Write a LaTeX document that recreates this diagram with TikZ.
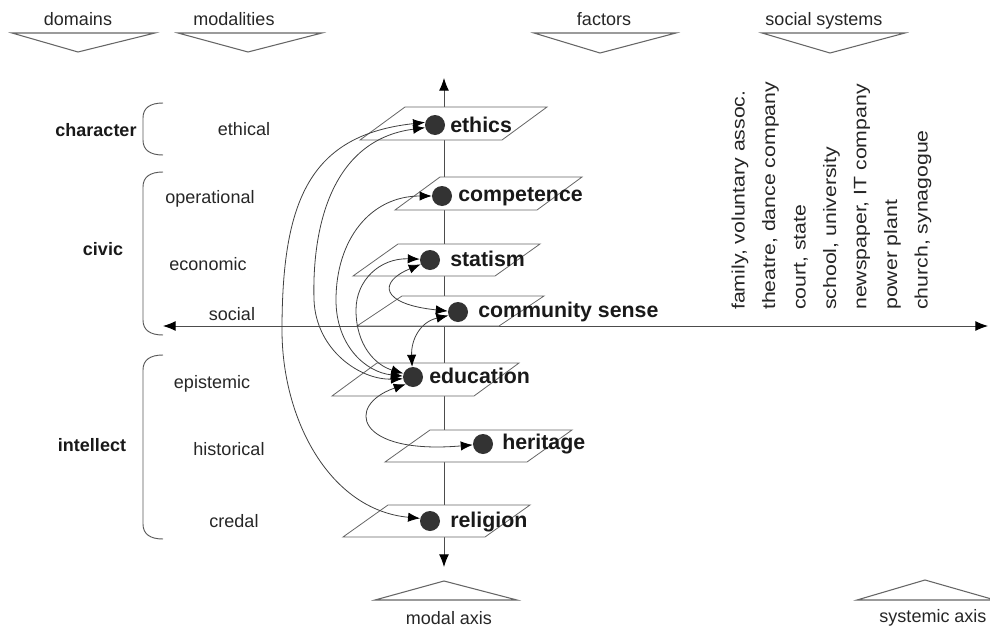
\documentclass[tikz,border=0pt]{standalone}
\usepackage{fontspec}
\usepackage{graphicx}
\setmainfont{Liberation Sans}
\usetikzlibrary{arrows.meta}
\begin{document}
\begin{tikzpicture}[x=0.75pt,y=-0.75pt,
  plane/.style={draw=black!60, line width=0.6pt, fill=white},
  axis/.style={draw=black!70, line width=0.7pt, {Latex[length=9.5pt,width=7.5pt,black]}-{Latex[length=9.5pt,width=7.5pt,black]}},
  chev/.style={draw=black!60, line width=0.8pt},
  dotn/.style={circle, fill=black!80, minimum size=15pt, inner sep=0pt},
  fac/.style={font=\fontsize{16}{18}\selectfont\bfseries, inner sep=0pt, anchor=base west, text=black!90},
  mlab/.style={font=\fontsize{13.5}{15}\selectfont, inner sep=0pt, anchor=base, text=black!85},
  dlab/.style={font=\fontsize{13.5}{15}\selectfont\bfseries, inner sep=0pt, anchor=base, text=black!90},
  link/.style={draw=black!75, line width=0.6pt, {Latex[length=9pt,width=7pt,black]}-{Latex[length=9pt,width=7pt,black]}},
  brace/.style={draw=black!65, line width=0.7pt},
  sys/.style={font=\fontsize{13.5}{15}\selectfont, rotate=90, anchor=west, inner sep=0pt, text=black!85}]
\useasboundingbox (0,0) rectangle (990,632);

% header chevrons and labels
\node[mlab] (hDom) at (78,25) {domains};
\draw[chev] (12,33) -- (155,33) -- (78,52) -- cycle;
\node[mlab] (hMod) at (234,25) {modalities};
\draw[chev] (178,33) -- (322,33) -- (248,52) -- cycle;
\node[mlab] (hFac) at (604,25) {factors};
\draw[chev] (534,33) -- (676,33) -- (600,53) -- cycle;
\node[mlab] (hSoc) at (824,25) {social systems};
\draw[chev] (762,33) -- (905,33) -- (830,53) -- cycle;

% bottom axis labels
\draw[chev] (375,600) -- (517,600) -- (444,581) -- cycle;
\node[mlab] (fMod) at (449,624) {modal axis};
\draw[chev] (857,600) -- (995,600) -- (925,580) -- cycle;
\node[mlab] (fSys) at (933,622) {systemic axis};

% axes
\coordinate (vt) at (444,78);
\coordinate (vb) at (444,567);
\coordinate (hl) at (163,326);
\coordinate (hr) at (988,326);
\draw[axis] (vt) -- (vb);
\draw[axis] (hl) -- (hr);

% planes
\foreach \x/\y/\h in {360/140/33, 395/210/33, 353/276/32, 357/326/30, 332/396/33, 385/462/32, 343/537/32}
  \draw[plane] (\x,\y) -- ++(142,0) -- ++(45,-\h) -- ++(-142,0) -- cycle;

% braces
\draw[brace] (163,103) .. controls (150,103) and (143,108) .. (143,118) -- (143,140) .. controls (143,150) and (150,155) .. (163,155);
\draw[brace] (163,172) .. controls (150,172) and (143,177) .. (143,187) -- (143,320) .. controls (143,330) and (150,335) .. (163,335);
\draw[brace] (163,355) .. controls (150,355) and (143,360) .. (143,370) -- (143,524) .. controls (143,534) and (150,539) .. (163,539);

% domain labels
\node[dlab] (dCha) at (96,136) {character};
\node[dlab] (dCiv) at (103,255) {civic};
\node[dlab] (dInt) at (92,451) {intellect};

% modality labels
\node[mlab] (mEth) at (244,135) {ethical};
\node[mlab] (mOpe) at (210,203) {operational};
\node[mlab] (mEco) at (208,270) {economic};
\node[mlab] (mSoc) at (232,320) {social};
\node[mlab] (mEpi) at (212,388) {epistemic};
\node[mlab] (mHis) at (229,455) {historical};
\node[mlab] (mCre) at (234,527) {credal};

% factor dots
\node[dotn] (eth) at (435,125) {};
\node[dotn] (com) at (442,196) {};
\node[dotn] (sta) at (430,260) {};
\node[dotn] (cmy) at (458,312) {};
\node[dotn] (edu) at (413,377) {};
\node[dotn] (her) at (483,444) {};
\node[dotn] (rel) at (430,521) {};

% factor labels
\node[fac] (teth) at (450,132) {ethics};
\node[fac] (tcom) at (458,201) {competence};
\node[fac] (tsta) at (450,266) {statism};
\node[fac] (tcmy) at (478,317) {community sense};
\node[fac] (tedu) at (429,383) {education};
\node[fac] (ther) at (502,449) {heritage};
\node[fac] (trel) at (450,527) {religion};

% links
\draw[link] (eth.165) .. controls (310,135) and (282,200) .. (282,330) .. controls (282,420) and (330,510) .. (rel.165);
\draw[link] (eth.195) .. controls (330,140) and (312,230) .. (314,300) .. controls (316,350) and (360,380) .. (edu.190);
\draw[link] (com.180) .. controls (370,196) and (336,240) .. (336,300) .. controls (336,345) and (365,372) .. (edu.175);
\draw[link] (sta.175) .. controls (380,258) and (356,280) .. (356,310) .. controls (356,345) and (375,365) .. (edu.160);
\draw[link] (sta.205) .. controls (378,282) and (380,304) .. (cmy.175);
\draw[link] (cmy.200) .. controls (420,322) and (411,340) .. (edu.95);
\draw[link] (edu.225) .. controls (345,405) and (355,455) .. (her.185);

% social systems
\node[sys] (s1) at (740,310) {\scalebox{1.18}[1]{family, voluntary assoc.}};
\node[sys] (s2) at (770.5,310) {\scalebox{1.18}[1]{theatre, dance company}};
\node[sys] (s3) at (801,310) {\scalebox{1.18}[1]{court, state}};
\node[sys] (s4) at (831.5,310) {\scalebox{1.18}[1]{school, university}};
\node[sys] (s5) at (862,310) {\scalebox{1.18}[1]{newspaper, IT company}};
\node[sys] (s6) at (892.5,310) {\scalebox{1.18}[1]{power plant}};
\node[sys] (s7) at (923,310) {\scalebox{1.18}[1]{church, synagogue}};
\end{tikzpicture}
\end{document}
